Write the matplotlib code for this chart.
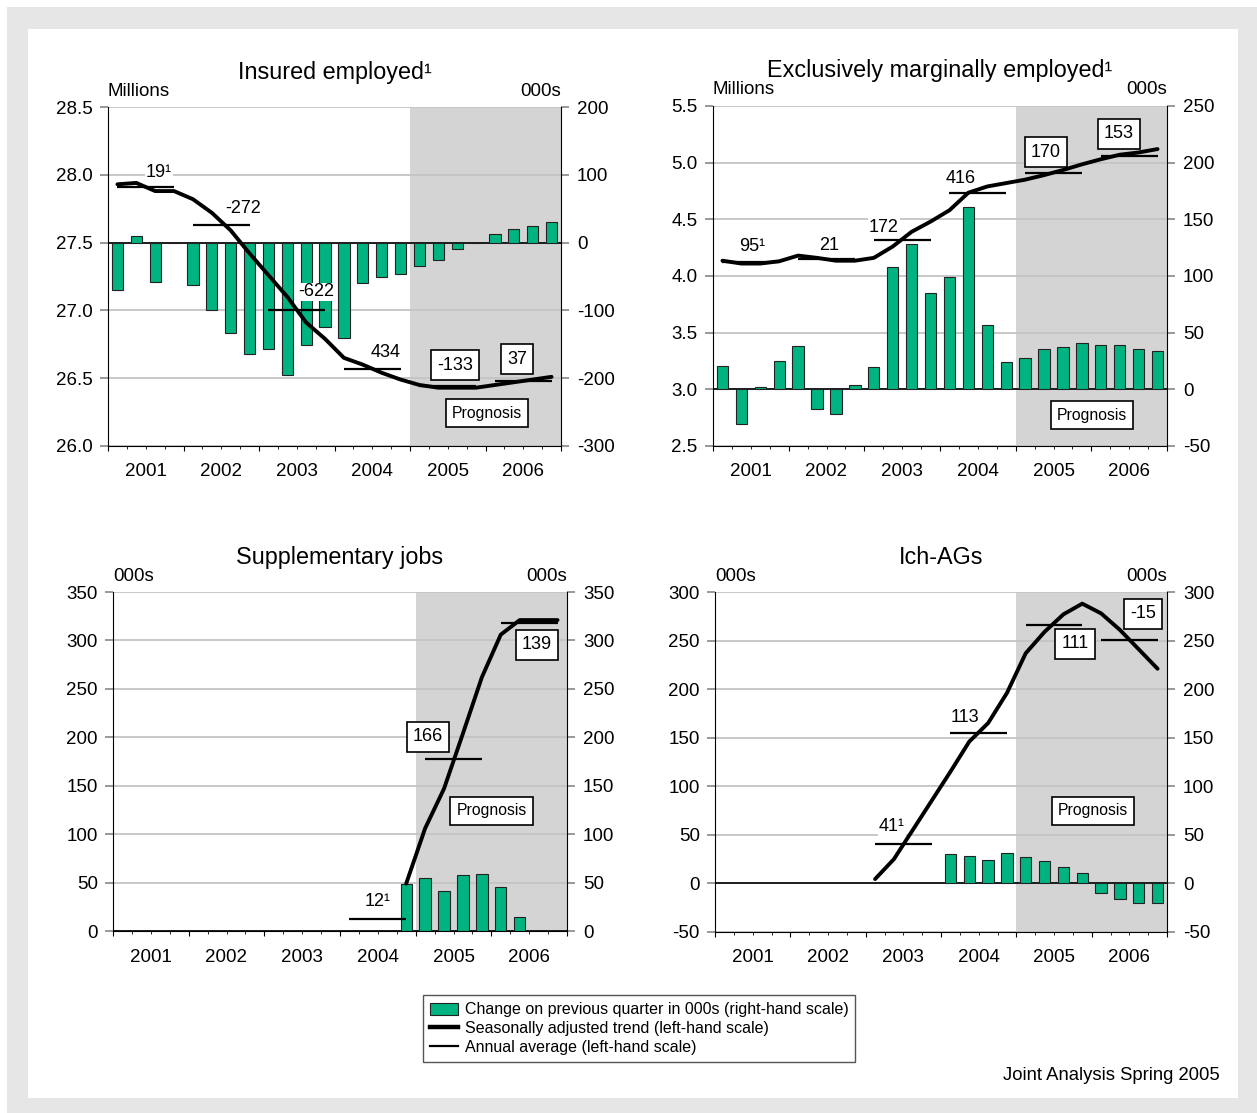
import numpy as np
import matplotlib
matplotlib.use("Agg")
from matplotlib import pyplot as plt
from matplotlib.patches import Rectangle, Patch
from matplotlib.lines import Line2D

plt.rcParams['font.family'] = ['Liberation Sans', 'DejaVu Sans']

nan = np.nan
years = ['2001', '2002', '2003', '2004', '2005', '2006']

# insured employed: bars in 000s (right), trend/annual avg in millions (left)
ins_change = [-70, 9, -58, 0, -63, -100, -134, -165, -157, -195, -151, -124,
              -140, -59, -50, -46, -35, -25, -10, 0, 13, 20, 25, 30]
ins_trend = [27.93, 27.94, 27.88, 27.88, 27.82, 27.72, 27.59, 27.42, 27.26, 27.10, 26.91, 26.79,
             26.65, 26.60, 26.54, 26.49, 26.45, 26.43, 26.43, 26.43, 26.45, 26.47, 26.49, 26.51]
ins_annual = [27.91, 27.63, 27.00, 26.57, 26.44, 26.48]
ins_labels = ['19¹', '-272', '-622', '434', '-133', '37']

# exclusively marginally employed
mar_change = [21, -31, 2, 25, 38, -17, -22, 4, 20, 108, 128, 85,
              99, 161, 57, 24, 28, 36, 37, 41, 39, 39, 36, 34]
mar_trend = [4.135, 4.11, 4.11, 4.13, 4.18, 4.16, 4.135, 4.135, 4.16, 4.26, 4.39, 4.48,
             4.58, 4.735, 4.79, 4.82, 4.85, 4.89, 4.935, 4.985, 5.03, 5.07, 5.09, 5.12]
mar_annual = [4.12, 4.15, 4.32, 4.735, 4.91, 5.06]
mar_labels = ['95¹', '21', '172', '416', '170', '153']

# supplementary jobs
sup_change = [nan] * 15 + [49, 55, 41, 57.5, 59, 45, 14, nan, nan]
sup_trend = [nan] * 15 + [49, 106, 147, 204, 262, 306, 321, 321, 321]
sup_annual = [nan, nan, nan, 12, 178, 318.5]
sup_labels = ['', '', '', '12¹', '166', '139']

# Ich-AGs
ich_change = [nan] * 12 + [30, 28, 24, 31, 27, 23, 17, 11, -10, -16.5, -20, -20]
ich_trend = [nan] * 8 + [4.5, 25, 55, 85, 115, 146, 165, 196,
                         237, 259, 277, 288, 278, 261, 241, 221]
ich_annual = [nan, nan, 41, 155, 266, 251]
ich_labels = ['', '', '41¹', '113', '111', '-15']

GREEN = '#00b380'
SHADE = '#d4d4d4'
GRID = '#c4c4c4'

fig = plt.figure(figsize=(12.57, 11.13), dpi=100)
fig.add_artist(Rectangle((7 / 1257, 0), 1, 1 - 7 / 1113, transform=fig.transFigure,
                         facecolor='#e6e6e6', edgecolor='none', zorder=-3))
fig.add_artist(Rectangle((28 / 1257, 15 / 1113), 1210 / 1257, 1069 / 1113,
                         transform=fig.transFigure, facecolor='white', edgecolor='none', zorder=-2))


def panel(rect, title, lunit, runit, llim, lticks, lfmt, rlim, rticks,
          change, trend, annual, labels, label_pos, boxed):
    ax2 = fig.add_axes(rect)
    ax2.patch.set_visible(False)
    ax = ax2.twinx()
    # put the lines axis on top, bars axis below
    ax.yaxis.tick_left()
    ax2.yaxis.tick_right()
    ax.set_zorder(ax2.get_zorder() + 1)
    ax.patch.set_visible(False)

    x = np.arange(24)
    ax2.set_xlim(-0.5, 23.5)
    ax2.set_ylim(*rlim)
    ax.set_ylim(*llim)

    ax2.axvspan(15.5, 23.5, color=SHADE, lw=0, zorder=0.2)
    ax2.set_yticks(rticks)
    ax2.set_yticklabels([str(t) for t in rticks])
    ax2.set_axisbelow(True)
    ax2.grid(axis='y', color=GRID, lw=1.3)
    ax2.axhline(0, color='black', lw=1.2, zorder=0.8)
    ax2.bar(x, change, width=0.6, color=GREEN, edgecolor='#222222', lw=0.8, zorder=2)

    ax.plot(x, trend, color='black', lw=2.8, solid_capstyle='round', zorder=3)
    for k, v in enumerate(annual):
        if not np.isnan(v):
            ax.hlines(v, 4 * k, 4 * k + 3, color='black', lw=1.6, zorder=3)

    for k, s in enumerate(labels):
        if s == '':
            continue
        px, py = label_pos[k]
        if boxed[k]:
            bb = dict(boxstyle='square,pad=0.35', facecolor='white', edgecolor='black', lw=1.2)
        else:
            bb = dict(boxstyle='square,pad=0.05', facecolor='white', edgecolor='none')
        ax.text(px, py, s, ha='center', va='center', fontsize=13, bbox=bb, zorder=5)

    # axes decoration
    for sp in ['top', 'right']:
        ax.spines[sp].set_visible(False)
    for sp in ['top', 'left', 'bottom']:
        ax2.spines[sp].set_visible(False)
    ax.spines['left'].set_color('black')
    ax.spines['bottom'].set_color('black')
    ax2.spines['right'].set_color('black')

    ax.set_yticks(lticks)
    ax.set_yticklabels([lfmt.format(t) for t in lticks])
    ax.tick_params(axis='y', length=6, width=1.2, color='#888888', pad=5, labelsize=13.5)
    ax2.tick_params(axis='y', length=6, width=1.2, color='#888888', pad=5.5, labelsize=13.5)

    ax.set_xticks(np.arange(-0.5, 24, 4))
    ax.set_xticklabels([])
    ax.set_xticks([q - 0.5 for q in range(25) if q % 4 != 0], minor=True)
    ax.tick_params(axis='x', which='major', length=10.5, width=1.3, color='#555555')
    ax.tick_params(axis='x', which='minor', length=5.5, width=1.3, color='#555555')
    for k, yr in enumerate(years):
        ax.annotate(yr, (4 * k + 1.5, 0), xycoords=('data', 'axes fraction'),
                    xytext=(0, -26), textcoords='offset pixels',
                    ha='center', va='center', fontsize=13.5)

    ax.annotate(title, (0.5, 1), xycoords='axes fraction', xytext=(0, 35),
                textcoords='offset pixels', ha='center', va='center', fontsize=16.8)
    ax.annotate(lunit, (0, 1), xycoords='axes fraction', xytext=(0, 16),
                textcoords='offset pixels', ha='left', va='center', fontsize=13.5)
    ax.annotate(runit, (1, 1), xycoords='axes fraction', xytext=(0, 16),
                textcoords='offset pixels', ha='right', va='center', fontsize=13.5)
    return ax


def prognosis(ax, px, py):
    ax.text(px, py, 'Prognosis', ha='center', va='center', fontsize=11.3, zorder=5,
            bbox=dict(boxstyle='square,pad=0.4', facecolor='white', edgecolor='black', lw=1.2))


W, H = 1257, 1113


def frac(l, t, r, b):
    return [l / W, 1 - b / H, (r - l) / W, (b - t) / H]


a1 = panel(frac(108, 107, 561, 446), 'Insured employed¹', 'Millions', '000s',
           (26.0, 28.5), np.arange(26.0, 28.51, 0.5), '{:.1f}', (-300, 200), list(range(-300, 201, 100)),
           ins_change, ins_trend, ins_annual, ins_labels,
           [(2.2, 28.02), (6.65, 27.755), (10.52, 27.136), (14.23, 26.693), (17.88, 26.597), (21.17, 26.64)],
           [False, False, False, False, True, True])
prognosis(a1, 19.58, 26.243)

a2 = panel(frac(713, 106, 1167, 446), 'Exclusively marginally employed¹', 'Millions', '000s',
           (2.5, 5.5), np.arange(2.5, 5.51, 0.5), '{:.1f}', (-50, 250), list(range(-50, 251, 50)),
           mar_change, mar_trend, mar_annual, mar_labels,
           [(1.56, 4.256), (5.63, 4.265), (8.54, 4.432), (12.61, 4.856), (17.1, 5.094), (20.96, 5.253)],
           [False, False, False, False, True, True])
prognosis(a2, 19.54, 2.773)

a3 = panel(frac(113, 592, 567, 931), 'Supplementary jobs', '000s', '000s',
           (0, 350), list(range(0, 351, 50)), '{:d}', (0, 350), list(range(0, 351, 50)),
           sup_change, sup_trend, sup_annual, sup_labels,
           [None, None, None, (13.51, 30.0), (16.15, 200.3), (21.91, 295.3)],
           [False, False, False, False, True, True])
prognosis(a3, 19.53, 123.9)

a4 = panel(frac(715, 592, 1167, 932), 'Ich-AGs', '000s', '000s',
           (-50, 300), list(range(-50, 301, 50)), '{:d}', (-50, 300), list(range(-50, 301, 50)),
           ich_change, ich_trend, ich_annual, ich_labels,
           [None, None, (8.9, 58.1), (12.77, 171.3), (18.62, 246.5), (22.23, 277.4)],
           [False, False, False, False, True, True])
prognosis(a4, 19.57, 74.6)

handles = [Patch(facecolor=GREEN, edgecolor='#222222', lw=0.8),
           Line2D([], [], color='black', lw=3.2),
           Line2D([], [], color='black', lw=1.6)]
leg = fig.legend(handles, ['Change on previous quarter in 000s (right-hand scale)',
                           'Seasonally adjusted trend (left-hand scale)',
                           'Annual average (left-hand scale)'],
                 loc='upper left', bbox_to_anchor=(423 / W, 1 - 995 / H), borderaxespad=0,
                 fontsize=11.5, handlelength=1.75, handleheight=0.8, handletextpad=0.4,
                 labelspacing=0.24, borderpad=0.45, fancybox=False, framealpha=1,
                 edgecolor='#555555')
leg.get_frame().set_linewidth(1.0)

fig.text(1220 / W, 1 - 1075 / H, 'Joint Analysis Spring 2005', ha='right', va='center', fontsize=13.3)

fig.savefig('out.png', dpi=100)
